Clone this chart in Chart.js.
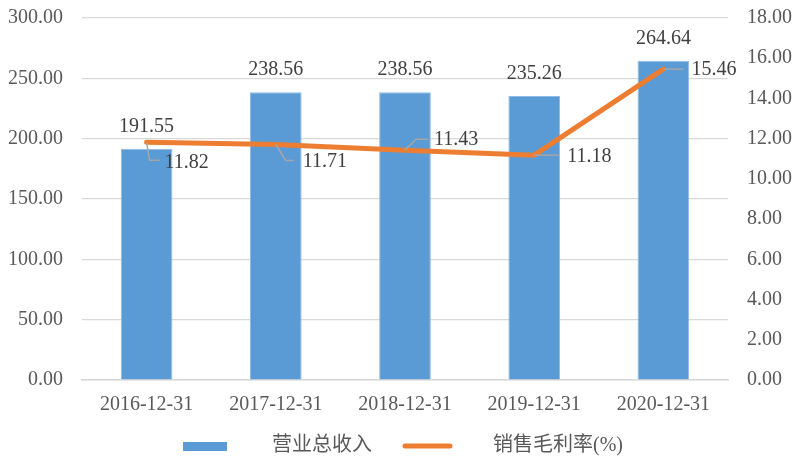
<!DOCTYPE html>
<html>
<head>
<meta charset="utf-8">
<script src="https://cdn.jsdelivr.net/npm/chart.js@4"></script>
<style>
html,body{margin:0;padding:0;background:#fff;}
canvas{display:block;}
</style>
</head>
<body>
<canvas id="c" width="800" height="463"></canvas>
<script>
const categories = ['2016-12-31', '2017-12-31', '2018-12-31', '2019-12-31', '2020-12-31'];
const revenue = [191.55, 238.56, 238.56, 235.26, 264.64];
const grossMargin = [11.82, 11.71, 11.43, 11.18, 15.46];
const seriesNames = ['营业总收入', '销售毛利率(%)'];
const leftAxis = {min: 0, max: 300, step: 50};
const rightAxis = {min: 0, max: 18, step: 2};

const BLUE = '#5B9BD5', ORANGE = '#ED7D31';
const SERIF = '"Liberation Serif", "Times New Roman", serif';
const MIXED = '"Liberation Serif", "Noto Sans CJK SC", sans-serif';

// styling: label offsets relative to each line point [leaderMidDx, leaderMidDy, leaderEndDx, textDx, textDy]
const lineLabelStyle = [
  [3, 18, 13, 18, 20],
  [10, 16, 18, 27, 17],
  [11, -11, 23, 29, -10],
  [null, null, 25, 33, 2],
  [null, null, 20, 28, 1]
];

const labelsPlugin = {
  id: 'labels',
  afterDatasetsDraw(chart) {
    const ctx = chart.ctx;
    ctx.save();
    ctx.font = '20px ' + SERIF;
    ctx.fillStyle = '#404040';
    ctx.textBaseline = 'middle';
    const barMeta = chart.getDatasetMeta(1);
    barMeta.data.forEach((el, i) => {
      ctx.textAlign = 'center';
      ctx.fillText(revenue[i].toFixed(2), el.x, el.y - 22);
    });
    const lineMeta = chart.getDatasetMeta(0);
    lineMeta.data.forEach((el, i) => {
      const s = lineLabelStyle[i];
      ctx.strokeStyle = '#a6a6a6';
      ctx.lineWidth = 1.5;
      ctx.beginPath();
      ctx.moveTo(el.x, el.y);
      if (s[0] !== null) {
        ctx.lineTo(el.x + s[0], el.y + s[1]);
        ctx.lineTo(el.x + s[2], el.y + s[1]);
      } else {
        ctx.lineTo(el.x + s[2], el.y);
      }
      ctx.stroke();
      ctx.textAlign = 'left';
      ctx.fillText(grossMargin[i].toFixed(2), el.x + s[3], el.y + s[4]);
    });
    ctx.restore();
  }
};

const legendPlugin = {
  id: 'customLegend',
  afterDraw(chart) {
    const ctx = chart.ctx;
    ctx.save();
    const y = 446;
    ctx.fillStyle = BLUE;
    ctx.fillRect(183, 442, 44, 9);
    ctx.strokeStyle = ORANGE;
    ctx.lineWidth = 5;
    ctx.lineCap = 'round';
    ctx.beginPath();
    ctx.moveTo(405, y);
    ctx.lineTo(450, y);
    ctx.stroke();
    ctx.fillStyle = '#595959';
    ctx.font = '20px ' + MIXED;
    ctx.textBaseline = 'middle';
    ctx.textAlign = 'left';
    ctx.fillText(seriesNames[0], 272, y);
    ctx.fillText(seriesNames[1], 493, y);
    ctx.restore();
  }
};

function fixV(width) {
  return function (s) { s.width = width; s.paddingTop = 0; s.paddingBottom = 0; };
}

new Chart(document.getElementById('c'), {
  data: {
    labels: categories,
    datasets: [
      {
        type: 'line',
        label: seriesNames[1],
        data: grossMargin,
        yAxisID: 'y1',
        borderColor: ORANGE,
        backgroundColor: ORANGE,
        borderWidth: 5,
        pointRadius: 0,
        tension: 0,
        borderCapStyle: 'round',
        borderJoinStyle: 'round',
        order: 0
      },
      {
        type: 'bar',
        label: seriesNames[0],
        data: revenue,
        yAxisID: 'y',
        backgroundColor: BLUE,
        borderColor: '#8fbbe6',
        borderWidth: 1,
        barPercentage: 0.4,
        categoryPercentage: 1.0,
        order: 1
      }
    ]
  },
  options: {
    responsive: false,
    animation: false,
    devicePixelRatio: 1,
    layout: {padding: {top: 18, left: 0, right: 0, bottom: 0}},
    plugins: {legend: {display: false}, tooltip: {enabled: false}},
    scales: {
      x: {
        grid: {display: false, drawTicks: false},
        border: {display: true, color: '#d9d9d9', width: 1.5},
        ticks: {font: {family: SERIF, size: 20}, color: '#595959', padding: 13, maxRotation: 0},
        afterFit(s) { s.height = 83; s.paddingLeft = 0; s.paddingRight = 0; }
      },
      y: {
        position: 'left',
        min: leftAxis.min, max: leftAxis.max,
        grid: {color: '#d9d9d9', lineWidth: 1.2, drawTicks: false},
        border: {display: false},
        ticks: {stepSize: leftAxis.step, font: {family: SERIF, size: 20}, color: '#595959', padding: 19,
          callback: v => Number(v).toFixed(2)},
        afterFit: fixV(82)
      },
      y1: {
        position: 'right',
        min: rightAxis.min, max: rightAxis.max,
        grid: {display: false, drawTicks: false},
        border: {display: false},
        ticks: {stepSize: rightAxis.step, font: {family: SERIF, size: 20}, color: '#595959', padding: 19,
          callback: v => Number(v).toFixed(2)},
        afterFit: fixV(72)
      }
    }
  },
  plugins: [labelsPlugin, legendPlugin]
});
</script>
</body>
</html>
